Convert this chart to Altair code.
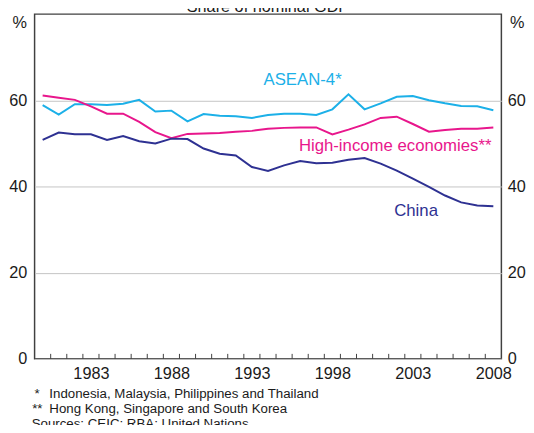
import altair as alt
import pandas as pd

years = list(range(1980, 2009))
asean = [58.9, 56.7, 59.1, 59.1, 58.9, 59.2, 60.1, 57.4, 57.6, 55.1,
         56.8, 56.4, 56.3, 55.9, 56.6, 56.9, 56.9, 56.6, 57.9, 61.4,
         57.9, 59.3, 60.8, 61.0, 60.0, 59.3, 58.7, 58.6, 57.7]
high_income = [61.1, 60.6, 60.1, 58.6, 56.9, 56.9, 55.0, 52.6, 51.2, 52.2,
               52.3, 52.4, 52.7, 52.9, 53.4, 53.6, 53.7, 53.7, 52.1, 53.2,
               54.4, 55.9, 56.2, 54.5, 52.7, 53.1, 53.4, 53.4, 53.7]
china = [50.8, 52.5, 52.1, 52.1, 50.8, 51.7, 50.5, 50.0, 51.1, 51.0,
         48.8, 47.6, 47.2, 44.5, 43.6, 44.9, 45.9, 45.4, 45.5, 46.2,
         46.6, 45.3, 43.7, 41.8, 39.9, 37.9, 36.3, 35.6, 35.4]

series_names = ["ASEAN-4*", "High-income economies**", "China"]
series_colors = ["#1cb0e8", "#e8168c", "#2e3192"]

label_x = [1996.65, 2002.4, 2003.7]
label_y = [64.6, 49.3, 34.4]

x_label_years = [1983, 1988, 1993, 1998, 2003, 2008]
y_ticks = [0, 20, 40, 60]
tick_bounds = list(range(1981, 2009))

title_text = "Share of nominal GDP"
footnotes_mark = ["*", "**"]
footnotes_text = ["Indonesia, Malaysia, Philippines and Thailand",
                  "Hong Kong, Singapore and South Korea"]
sources_text = "Sources: CEIC; RBA; United Nations"

FONT = "Liberation Sans"
W, H = 474, 350

df = pd.DataFrame({
    "year": years * 3,
    "value": asean + high_income + china,
    "series": [series_names[0]] * len(years) + [series_names[1]] * len(years) + [series_names[2]] * len(years),
})

xscale = alt.Scale(domain=[1980, 2009], nice=False, zero=False)
yscale = alt.Scale(domain=[0, 80], nice=False)
cscale = alt.Scale(domain=series_names, range=series_colors)

lines = alt.Chart(df).transform_calculate(xpos="datum.year + 0.5").mark_line(strokeWidth=2).encode(
    x=alt.X("xpos:Q", scale=xscale, axis=alt.Axis(
        values=[v + 0.5 for v in x_label_years], labelExpr="'' + floor(datum.value)",
        ticks=False, domain=False, grid=False, title=None, labelFontSize=16.5,
        labelPadding=7, labelColor="#1a1a1a", labelFont=FONT)),
    y=alt.Y("value:Q", scale=yscale, axis=alt.Axis(
        orient="left", values=y_ticks, ticks=False, domain=False, grid=True,
        gridColor="#c4c4c4", gridWidth=1, title=None, labelFontSize=16.5,
        labelPadding=8, labelColor="#1a1a1a", labelFont=FONT)),
    color=alt.Color("series:N", scale=cscale, legend=None),
    detail="series:N",
)

right_axis = alt.Chart(df).transform_calculate(xpos="datum.year + 0.5").mark_line(opacity=0).encode(
    x=alt.X("xpos:Q", scale=xscale, axis=None),
    y=alt.Y("value:Q", scale=yscale, axis=alt.Axis(
        orient="right", values=y_ticks, ticks=False, domain=False, grid=False,
        title=None, labelFontSize=16.5, labelPadding=6, labelColor="#1a1a1a", labelFont=FONT)),
    detail="series:N",
)

ticks = alt.Chart(pd.DataFrame({"b": tick_bounds})).mark_rule(color="#404040", strokeWidth=1).encode(
    x=alt.X("b:Q", scale=xscale, axis=None),
    y=alt.value(H - 5), y2=alt.value(H),
)

labels = alt.Chart(pd.DataFrame({"lx": label_x, "ly": label_y, "series": series_names})).mark_text(
    fontSize=17, font=FONT, align="center", baseline="middle").encode(
    x=alt.X("lx:Q", scale=xscale, axis=None),
    y=alt.Y("ly:Q", scale=yscale, axis=None),
    text="series:N",
    color=alt.Color("series:N", scale=cscale, legend=None),
)

def txt(t, x, y, size=16.5, align="left", baseline="middle"):
    return alt.Chart(pd.DataFrame({"t": [t]})).mark_text(
        fontSize=size, font=FONT, align=align, baseline=baseline, color="#1a1a1a").encode(
        text="t:N", x=alt.value(x), y=alt.value(y))

annos = [
    txt("%", -15, 9, align="center"),
    txt("%", 490, 9, align="center"),
    txt(title_text, W / 2, -2, align="center", baseline="alphabetic"),
    txt(footnotes_mark[0], 0, 386, size=13.5),
    txt(footnotes_text[0], 15, 386, size=13.5),
    txt(footnotes_mark[1], -2.5, 401, size=13.5),
    txt(footnotes_text[1], 15, 401, size=13.5),
    txt(sources_text, -3, 416, size=13.5),
]

chart = alt.layer(lines, right_axis, ticks, labels, *annos).resolve_axis(
    x="independent", y="independent"
).properties(
    width=W, height=H,
    padding={"left": 27, "top": 3, "right": 25, "bottom": 64},
    autosize=alt.AutoSizeParams(type="none"),
).configure_view(stroke="#404040", strokeWidth=1.5).configure_text(font=FONT)

chart.save("out.html", embed_options={"renderer": "svg", "actions": False})
